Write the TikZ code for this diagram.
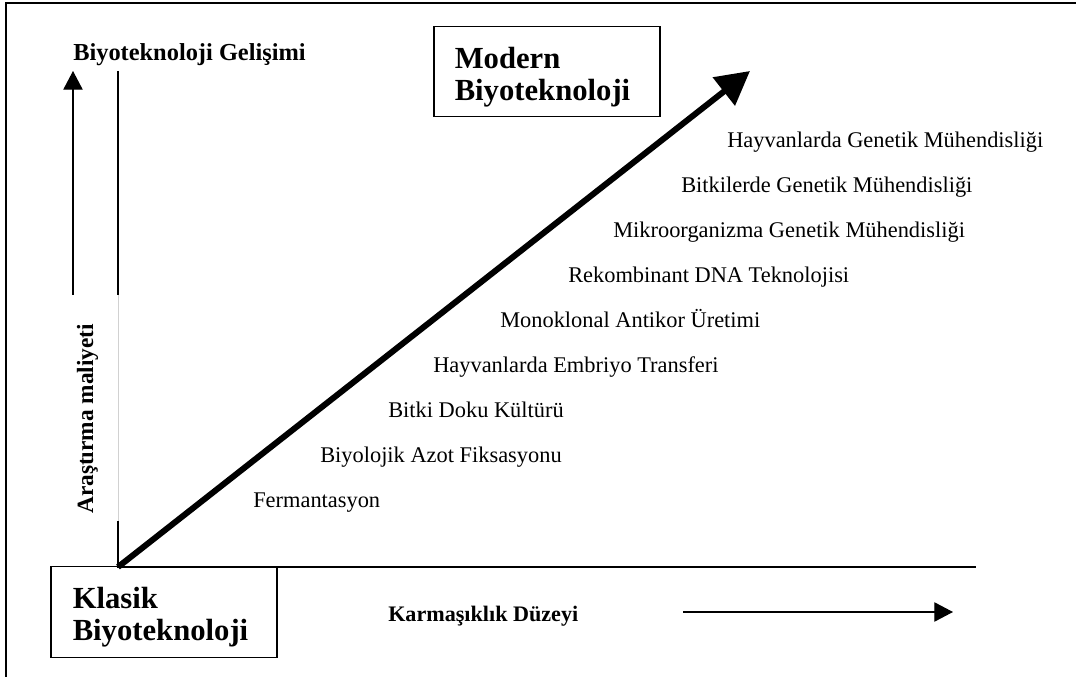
\documentclass[tikz,border=0pt]{standalone}
\usepackage{fontspec}
\setmainfont{Liberation Serif}
\usetikzlibrary{arrows.meta}
\begin{document}
\begin{tikzpicture}[x=0.75pt,y=-0.75pt,
  every node/.style={inner sep=0pt},
  item/.style={anchor=base west, font=\fontsize{16.8}{20}\selectfont},
  axislbl/.style={anchor=base west, font=\fontsize{16.6}{20}\selectfont\bfseries},
  stagebox/.style={draw, line width=0.9pt, minimum width=169.5pt, minimum height=68pt},
  stagetxt/.style={align=left, font=\fontsize{23}{24}\selectfont\bfseries},
  thinarrow/.style={-{Triangle[length=14pt,width=14.5pt]}, line width=0.9pt},
  bigarrow/.style={-{Triangle[length=25pt,width=26pt]}, line width=4.5pt}]
\useasboundingbox (0,0) rectangle (1076,677);
% frame
\coordinate (fbl) at (6,677);
\coordinate (ftl) at (6,3);
\coordinate (ftr) at (1076,3);
\draw[line width=1.4pt] (fbl) -- (ftl) -- (ftr);
% axes
\coordinate (origin) at (118,567);
\coordinate (ytop) at (118,71);
\coordinate (ybrA) at (118,295);
\coordinate (ybrB) at (118,521);
\coordinate (xend) at (976,567);
\draw[line width=0.9pt] (ytop) -- (ybrA);
\draw[line width=0.6pt, black!18] (ybrA) -- (ybrB);
\draw[line width=0.9pt] (ybrB) -- (origin) -- (xend);
% boxes
\node[stagebox] (klasik) at (164,612) {};
\node[stagetxt] (klasiktxt) at (160.5,616.8) {Klasik\\Biyoteknoloji};
\node[stagebox] (modern) at (547,71.5) {};
\node[stagetxt] (moderntxt) at (542.5,77) {Modern\\Biyoteknoloji};
% main arrow
\coordinate (bigtip) at (750,71);
\draw[bigarrow] (origin) -- (bigtip);
% side arrows
\coordinate (upstart) at (73,295);
\coordinate (uptip) at (73,71);
\draw[thinarrow] (upstart) -- (uptip);
\coordinate (rstart) at (683,612);
\coordinate (rtip) at (953,612);
\draw[thinarrow] (rstart) -- (rtip);
% axis labels
\node[axislbl, font=\fontsize{18.3}{22}\selectfont\bfseries] (dev) at (73,61) {Biyoteknoloji Gelişimi};
\node[axislbl, rotate=90, font=\fontsize{17.5}{21}\selectfont\bfseries] (cost) at (93,514) {Araştırma maliyeti};
\node[axislbl] (complex) at (388,621) {Karmaşıklık Düzeyi};
% items
\node[item] (i1) at (727,148) {Hayvanlarda Genetik Mühendisliği};
\node[item] (i2) at (681,193) {Bitkilerde Genetik Mühendisliği};
\node[item] (i3) at (613,238) {Mikroorganizma Genetik Mühendisliği};
\node[item] (i4) at (568,283) {Rekombinant DNA Teknolojisi};
\node[item] (i5) at (500,328) {Monoklonal Antikor Üretimi};
\node[item] (i6) at (433,373) {Hayvanlarda Embriyo Transferi};
\node[item] (i7) at (388,418) {Bitki Doku Kültürü};
\node[item] (i8) at (320,463) {Biyolojik Azot Fiksasyonu};
\node[item] (i9) at (253,508) {Fermantasyon};
\end{tikzpicture}
\end{document}
